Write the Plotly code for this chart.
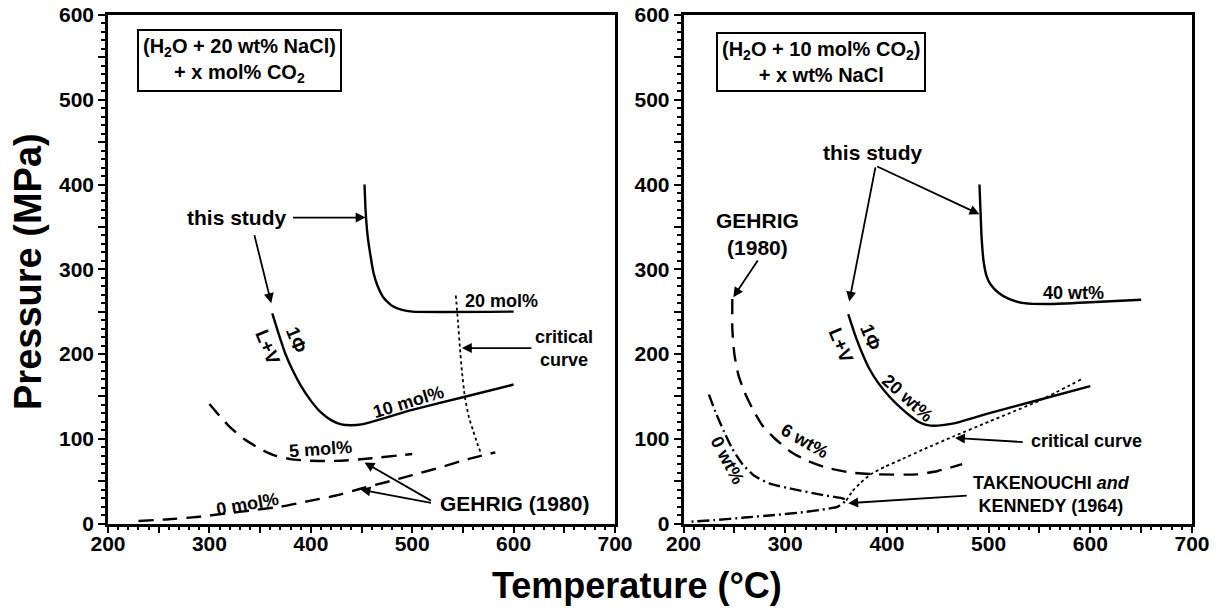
import plotly.graph_objects as go

# ---------------- data ----------------
# Left panel: (H2O + 20 wt% NaCl) + x mol% CO2
L20_T = [453, 454, 456, 459, 462, 466, 472, 480, 490, 500, 600]
L20_P = [400, 370, 340, 315, 295, 280, 266, 257, 252, 250, 250]

L10_T = [362, 368, 375, 382, 390, 400, 410, 420, 430, 440, 450, 460, 480, 500, 550, 600]
L10_P = [248, 225, 200, 181, 163, 145, 131, 122, 117, 116, 117, 120, 127, 134, 149, 164]

L5_T = [300, 310, 320, 335, 350, 365, 380, 400, 430, 460, 500]
L5_P = [141, 127, 114, 99, 88, 80, 76, 74, 74, 77, 82]

L0_T = [230, 260, 290, 318, 345, 371, 400, 425, 449, 475, 500, 530, 555, 582]
L0_P = [3, 5, 8, 12, 16, 20, 27, 33, 41, 49, 57, 67, 76, 84]

LCRIT_T = [543, 545, 547, 549, 552, 556, 560, 564, 568]
LCRIT_P = [269, 240, 208, 180, 149, 125, 110, 95, 82]

# Right panel: (H2O + 10 mol% CO2) + x wt% NaCl
R40_T = [491, 492, 493, 495, 498, 502, 510, 520, 535, 560, 600, 650]
R40_P = [400, 370, 340, 310, 292, 282, 272, 265, 260, 259, 261, 264]

R20_T = [362, 368, 375, 383, 392, 403, 415, 424, 431, 437, 443, 450, 460, 472, 486, 500, 550, 600]
R20_P = [247, 225, 203, 182, 165, 149, 135, 126, 120, 117, 115.5, 115.5, 117, 120, 125, 130, 146, 162]

R6_T = [248, 248, 250, 254, 260, 268, 278, 290, 305, 320, 340, 365, 390, 430, 450, 474]
R6_P = [265, 230, 200, 175, 155, 135, 115, 100, 85, 75, 66, 60, 58, 58, 62, 70]

R0_T = [225, 232, 240, 248, 258, 270, 285, 310, 335, 360, 352, 340, 315, 290, 260, 230, 205]
R0_P = [152, 130, 108, 88, 70, 56, 47, 40, 34, 28, 20, 17, 13, 10, 7, 4, 2]

RCRIT_T = [360, 366, 374, 384, 398, 415, 435, 466, 500, 550, 591]
RCRIT_P = [27, 38, 48, 58, 67, 76, 87, 103, 120, 145, 170]

X_TICKS = [200, 250, 300, 350, 400, 450, 500, 550, 600, 650, 700]
X_LABELS = ["200", "", "300", "", "400", "", "500", "", "600", "", "700"]
Y_TICKS = [0, 50, 100, 150, 200, 250, 300, 350, 400, 450, 500, 550, 600]
Y_LABELS = ["0", "", "100", "", "200", "", "300", "", "400", "", "500", "", "600"]

FONT = "Liberation Sans, Arial, Helvetica, sans-serif"

fig = go.Figure()

def line(x, y, xa, ya, dash="solid", width=2.4):
    fig.add_trace(go.Scatter(x=x, y=y, xaxis=xa, yaxis=ya, mode="lines",
                             line=dict(color="black", width=width, dash=dash, shape="spline", smoothing=0.5),
                             showlegend=False, hoverinfo="skip"))

DASH = "15px,9px"
DASHDOT = "12px,4px,2px,4px"
line(L20_T, L20_P, "x", "y")
line(L10_T, L10_P, "x", "y")
line(L5_T, L5_P, "x", "y", DASH)
line(L0_T, L0_P, "x", "y", DASH)
line(LCRIT_T, LCRIT_P, "x", "y", "dot", 1.8)

line(R40_T, R40_P, "x2", "y2")
line(R20_T, R20_P, "x2", "y2")
line(R6_T, R6_P, "x2", "y2", DASH)
line(R0_T, R0_P, "x2", "y2", DASHDOT)
line(RCRIT_T, RCRIT_P, "x2", "y2", "dot", 1.8)

def axis_common():
    return dict(showline=True, linecolor="black", linewidth=2.5, mirror=True,
                ticks="outside", ticklen=7, tickwidth=2, tickcolor="black",
                showgrid=False, zeroline=False, automargin=False,
                tickfont=dict(family=FONT, size=21, color="black", weight="bold"),
                minor=dict(dtick=10, tick0=0, ticks="outside", ticklen=4, tickwidth=1.5,
                           tickcolor="black", showgrid=False))

xa = axis_common()
xa.update(range=[200, 700], tickmode="array", tickvals=X_TICKS, ticktext=X_LABELS,
          ticklabelstandoff=-7)
ya = axis_common()
ya.update(range=[0, 600], tickmode="array", tickvals=Y_TICKS, ticktext=Y_LABELS)

ytop = 1 - 15 / 611
ybot = 1 - 523.5 / 611
fig.update_layout(
    width=1222, height=611,
    margin=dict(l=0, r=0, t=0, b=0, autoexpand=False),
    paper_bgcolor="white", plot_bgcolor="white",
    xaxis=dict(xa, domain=[108 / 1222, 615 / 1222], anchor="y"),
    yaxis=dict(ya, domain=[ybot, ytop], anchor="x"),
    xaxis2=dict(xa, domain=[683.5 / 1222, 1192 / 1222], anchor="y2"),
    yaxis2=dict(ya, domain=[ybot, ytop], anchor="x2"),
)

ann = []
def text(x, y, t, ref="", size=19, angle=0, **kw):
    d = dict(x=x, y=y, xref="x" + ref, yref="y" + ref, text=t, showarrow=False,
             xanchor="center", yanchor="middle",
             textangle=angle, font=dict(family=FONT, size=size, color="black", weight="bold"))
    d.update(kw)
    ann.append(d)

def arrow(x, y, ax, ay, ref=""):
    ann.append(dict(x=x, y=y, ax=ax, ay=ay, xref="x" + ref, yref="y" + ref,
                    axref="x" + ref, ayref="y" + ref, text="", showarrow=True,
                    arrowhead=2, arrowsize=1.1, arrowwidth=1.8, arrowcolor="black"))

# ---- left panel labels ----
text(330, 546, "(H<sub>2</sub>O + 20 wt% NaCl)<br>+ x mol% CO<sub>2</sub>", size=20,
     bordercolor="black", borderwidth=2, borderpad=4, bgcolor="white")
text(327, 361, "this study", size=21)
arrow(454, 361, 381, 361)
arrow(361, 260, 344, 342)
text(588, 263, "20 mol%", size=18)
text(650, 207, "critical<br>curve", size=18)
arrow(549, 207, 619, 207)
text(496, 143, "10 mol%", size=18, angle=-17)
text(410, 88, "5 mol%", size=18, angle=-4)
text(338, 23, "0 mol%", size=18, angle=-10)
text(386, 216, "1Φ", size=19, angle=68)
text(358, 208, "L+V", size=19, angle=68)
text(601, 24, "GEHRIG (1980)", size=21)
arrow(453, 72, 520, 26)
arrow(449, 40, 520, 24)

# ---- right panel labels ----
text(335, 545, "(H<sub>2</sub>O + 10 mol% CO<sub>2</sub>)<br>+ x wt% NaCl", ref="2", size=20,
     bordercolor="black", borderwidth=2, borderpad=4, bgcolor="white")
text(386, 438, "this study", ref="2", size=21)
arrow(363, 262, 389, 422, "2")
arrow(491, 365, 389, 422, "2")
text(273, 341, "GEHRIG<br>(1980)", ref="2", size=21)
arrow(249, 267, 274, 312, "2")
text(583, 272, "40 wt%", ref="2", size=18)
text(384, 219, "1Φ", ref="2", size=19, angle=68)
text(355, 210, "L+V", ref="2", size=19, angle=68)
text(420, 148, "20 wt%", ref="2", size=18, angle=42)
text(596, 97, "critical curve", ref="2", size=18)
arrow(467, 101, 535, 96, "2")
text(319, 97, "6 wt%", ref="2", size=18, angle=30)
text(243, 75, "0 wt%", ref="2", size=18, angle=62)
text(562, 34, "TAKENOUCHI <i>and</i><br>KENNEDY (1964)", ref="2", size=18)
arrow(362, 24, 480, 33, "2")

# ---- axis titles ----
ann.append(dict(x=637 / 1222, y=1 - 585 / 611, xref="paper", yref="paper", text="Temperature (°C)",
                xanchor="center", yanchor="middle",
                showarrow=False, font=dict(family=FONT, size=36, color="black", weight="bold")))
ann.append(dict(x=28 / 1222, y=1 - 272 / 611, xref="paper", yref="paper", text="Pressure (MPa)",
                xanchor="center", yanchor="middle",
                showarrow=False, textangle=-90,
                font=dict(family=FONT, size=38, color="black", weight="bold")))

fig.update_layout(annotations=ann)
fig.write_html("out.html")
